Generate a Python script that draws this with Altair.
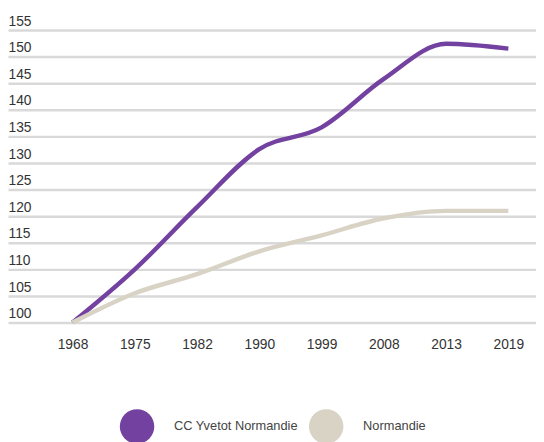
import altair as alt
import pandas as pd

years = ["1968", "1975", "1982", "1990", "1999", "2008", "2013", "2019"]
series_names = ["CC Yvetot Normandie", "Normandie"]
cc_yvetot = [100, 110, 121.7, 132.6, 136.7, 145.8, 152.4, 151.5]
normandie = [100, 105.5, 109.1, 113.4, 116.4, 119.6, 121, 121]
colors = ["#7341a0", "#d9d3c6"]
y_ticks = [100, 105, 110, 115, 120, 125, 130, 135, 140, 145, 150, 155]

rows = []
for i, y in enumerate(years):
    rows.append({"year": y, "serie": series_names[0], "value": cc_yvetot[i], "order": i})
    rows.append({"year": y, "serie": series_names[1], "value": normandie[i], "order": i})
df = pd.DataFrame(rows)

FONT = "Liberation Sans"

x_enc = alt.X("year:O", sort=years, title=None,
              scale=alt.Scale(type="point", padding=0.74, align=0.7),
              axis=alt.Axis(labelAngle=0, domain=False, ticks=False, grid=False,
                            labelPadding=15, labelFontSize=14, labelColor="#333333",
                            labelFont=FONT))
y_enc = alt.Y("value:Q", title=None,
              scale=alt.Scale(domain=[100, 155], nice=False, zero=False),
              axis=alt.Axis(values=y_ticks, domain=False, ticks=False, tickSize=0,
                            labelAlign="left", labelPadding=0, labelBaseline="alphabetic",
                            labelOffset=-5, labelFontSize=14, labelColor="#333333",
                            labelFont=FONT, gridColor="#d9d9d9", gridWidth=2.5))
color_enc = alt.Color("serie:N", title=None,
                      scale=alt.Scale(domain=series_names, range=colors),
                      legend=alt.Legend(orient="none", direction="horizontal",
                                        legendX=113.5, legendY=385,
                                        symbolType="circle", symbolSize=1225,
                                        symbolStrokeWidth=0, symbolOpacity=1,
                                        labelFontSize=13,
                                        labelColor="#444444", labelFont=FONT,
                                        labelOffset=20, columnPadding=11))

base = alt.Chart(df)
lines = base.mark_line(strokeWidth=4.5, interpolate="monotone").encode(
    x=x_enc, y=y_enc, color=color_enc, order="order:Q")
pts = base.mark_point(filled=True, opacity=0, size=10).encode(
    x=x_enc, y=y_enc, color=color_enc)

chart = alt.layer(lines, pts).properties(
    width=536, height=297,
    padding={"left": 0, "top": 3, "right": 0, "bottom": 0}
).configure_view(stroke=None)

chart.save("out.html", embed_options={"renderer": "svg", "actions": False})
